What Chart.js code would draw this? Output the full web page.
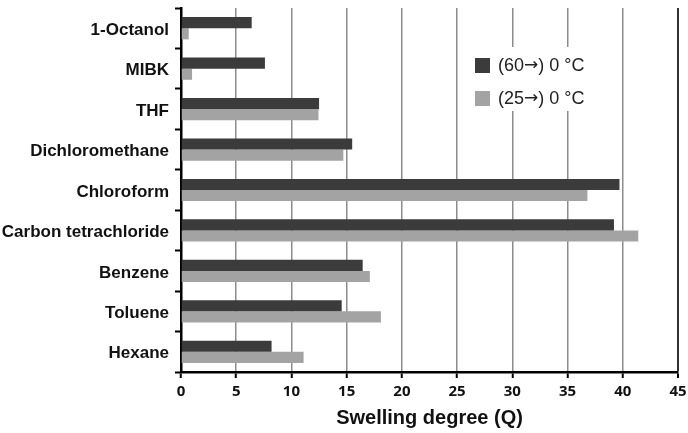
<!DOCTYPE html>
<html>
<head>
<meta charset="utf-8">
<script src="https://cdn.jsdelivr.net/npm/chart.js@4.4.1/dist/chart.umd.min.js"></script>
<style>
  body { margin: 0; background: #fff; }
  #wrap { width: 688px; height: 433px; }
</style>
</head>
<body>
<div id="wrap"><canvas id="swellChart" width="688" height="433"></canvas></div>
<script>
var solvents = ["1-Octanol", "MIBK", "THF", "Dichloromethane", "Chloroform",
  "Carbon tetrachloride", "Benzene", "Toluene", "Hexane"];
var from60 = [6.4, 7.6, 12.5, 15.5, 39.7, 39.2, 16.45, 14.55, 8.2];
var from25 = [0.7, 1.0, 12.45, 14.7, 36.8, 41.4, 17.1, 18.1, 11.1];
var seriesNames = ["(60\u2192) 0 \u00b0C", "(25\u2192) 0 \u00b0C"];
var qTicks = [0, 5, 10, 15, 20, 25, 30, 35, 40, 45];

var sansFont = "'Liberation Sans', Arial, sans-serif";

// legend box sitting inside the plot, over the grid lines
var insideLegend = {
  id: "insideLegend",
  afterDraw: function(chart) {
    var ctx = chart.ctx;
    var x = 475, y = 58;
    ctx.save();
    ctx.fillStyle = "#fff";
    ctx.fillRect(466, 47, 144, 64);
    ctx.textBaseline = "middle";
    chart.data.datasets.forEach(function(ds, i) {
      var ty = y + i * 33 + 8;
      ctx.fillStyle = ds.backgroundColor;
      ctx.fillRect(x, y + i * 33, 15, 15);
      ctx.fillStyle = "#222";
      // the arrow is drawn in DejaVu, whose glyph is wider
      var parts = ds.label.split("\u2192");
      var tx = x + 23;
      ctx.font = "18px " + sansFont;
      ctx.fillText(parts[0], tx, ty);
      tx += ctx.measureText(parts[0]).width;
      ctx.font = "17px 'DejaVu Sans', sans-serif";
      ctx.fillText("\u2192", tx, ty);
      tx += ctx.measureText("\u2192").width;
      ctx.font = "18px " + sansFont;
      ctx.fillText(parts[1], tx, ty);
    });
    ctx.restore();
  }
};

function init() {
  var ctx = document.getElementById("swellChart").getContext("2d");
  var chart = new Chart(ctx, {
    type: "bar",
    data: {
      labels: solvents,
      datasets: [{
        label: seriesNames[0],
        backgroundColor: "#3b3b3b",
        data: from60
      }, {
        label: seriesNames[1],
        backgroundColor: "#a3a3a3",
        data: from25
      }]
    },
    options: {
      indexAxis: "y",
      responsive: false,
      animation: false,
      categoryPercentage: 0.55,
      barPercentage: 1.0,
      layout: { autoPadding: false, padding: { top: 8, right: 10, left: 0, bottom: 0 } },
      plugins: {
        legend: { display: false },
        tooltip: { enabled: false }
      },
      scales: {
        y: {
          afterFit: function(scale) {
            scale.width = 181;
            // no extra room for half-labels at the ends
            scale.paddingTop = 0;
            scale.paddingBottom = 0;
          },
          grid: {
            drawOnChartArea: false,
            tickLength: 6,
            tickColor: "#000",
            tickWidth: 2
          },
          border: { color: "#000", width: 2.5 },
          ticks: {
            color: "#111",
            padding: 6,
            labelOffset: 2,
            font: { family: sansFont, size: 17, weight: "bold" }
          }
        },
        x: {
          min: 0,
          max: 45,
          afterFit: function(scale) {
            scale.height = 61;
            scale.paddingLeft = 0;
            scale.paddingRight = 0;
          },
          afterBuildTicks: function(scale) {
            scale.ticks = qTicks.map(function(v) { return { value: v }; });
          },
          grid: {
            color: function(c) { return c.tick && c.tick.value === 45 ? "#333" : "#8c8c8c"; },
            lineWidth: function(c) { return c.tick && c.tick.value === 45 ? 2 : 1.5; },
            tickLength: 6,
            tickColor: "#000",
            tickWidth: 2
          },
          border: { color: "#000", width: 2.5 },
          ticks: {
            color: "#111",
            padding: 5,
            font: { family: "'Open Sans', sans-serif", size: 15, weight: "bold" }
          },
          title: {
            display: true,
            text: "Swelling degree (Q)",
            color: "#111",
            padding: { top: 2, bottom: 3 },
            font: { family: sansFont, size: 20, weight: "bold" }
          }
        }
      }
    },
    plugins: [insideLegend]
  });
}

init();
</script>
</body>
</html>
